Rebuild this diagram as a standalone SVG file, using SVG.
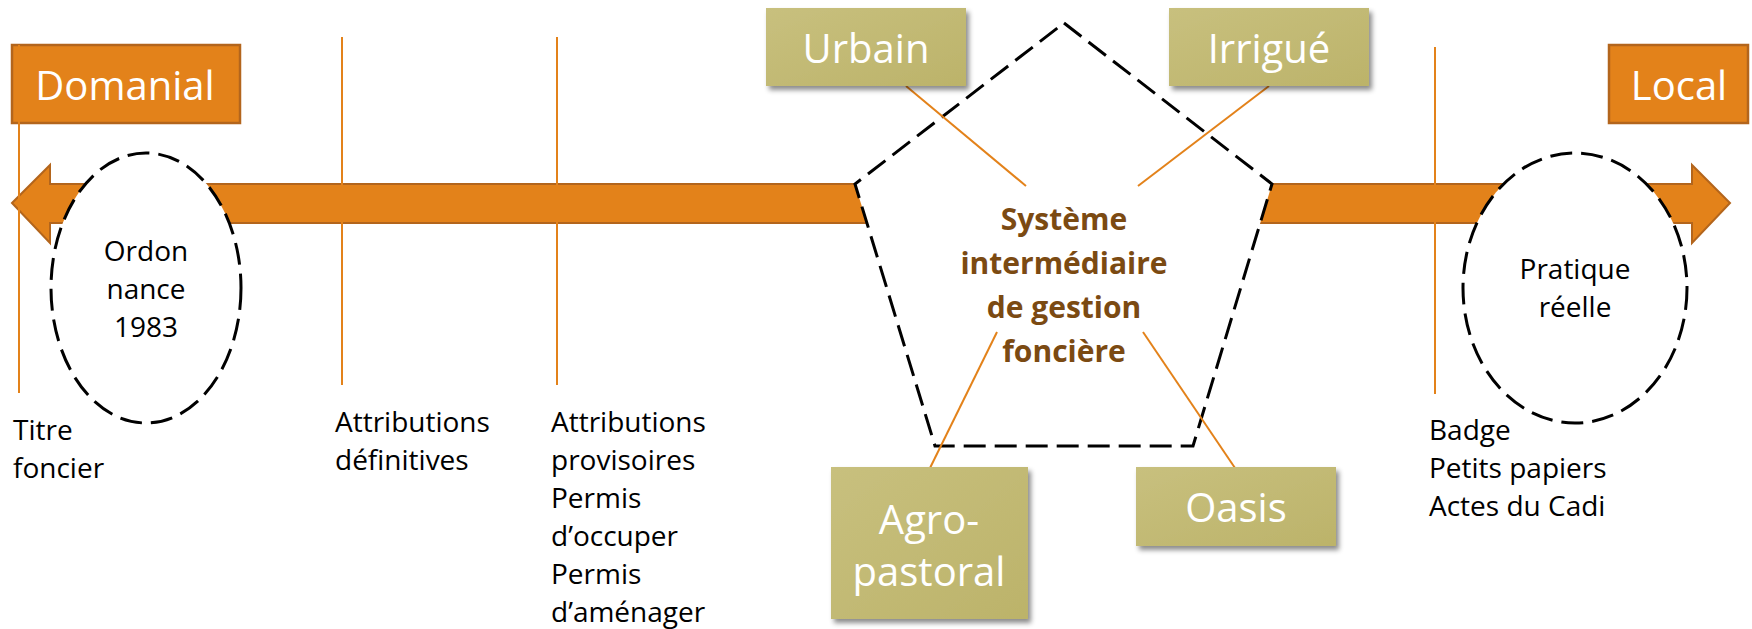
<svg xmlns="http://www.w3.org/2000/svg" width="1752" height="629" viewBox="0 0 1752 629">
<style>
.lbl{font-family:"Open Sans","Liberation Sans",sans-serif;font-size:28px;fill:#000}
.big{font-family:"Open Sans","Liberation Sans",sans-serif;font-size:40px;fill:#fff;text-anchor:middle}
.ctr{text-anchor:middle}
.core{font-family:"Open Sans","Liberation Sans",sans-serif;font-size:30px;font-weight:bold;fill:#7B4A12;text-anchor:middle}
.dash{fill:#fff;stroke:#000;stroke-width:3;stroke-dasharray:22 9}
.obox{fill:#E3821A;stroke:#B3651C;stroke-width:2.5}
.gbox{fill:url(#olive);filter:url(#shadow)}
.tick{stroke:#E3821A;stroke-width:2;fill:none}
.link{stroke:#E3821A;stroke-width:2;fill:none}
</style>
<defs>
<linearGradient id="olive" x1="0" y1="0" x2="1" y2="1">
<stop offset="0" stop-color="#C8C07E"/>
<stop offset="1" stop-color="#BCB36A"/>
</linearGradient>
<filter id="shadow" x="-10%" y="-10%" width="130%" height="140%">
<feDropShadow dx="3" dy="4" stdDeviation="2.5" flood-color="#000" flood-opacity="0.45"/>
</filter>
</defs>
<rect width="1752" height="629" fill="#fff"/>

<g id="axis-arrow">
<path d="M12,203 L50,165 L50,184 L1692,184 L1692,165 L1730,203 L1692,243 L1692,223 L50,223 L50,243 Z" fill="#E3821A" stroke="#B3651C" stroke-width="2" stroke-linejoin="miter"/>
</g>

<g id="node-ordonnance">
<ellipse cx="146" cy="288" rx="95" ry="135" class="dash"/>
<text class="lbl ctr"><tspan x="146" y="261">Ordon</tspan><tspan x="146" y="299">nance</tspan><tspan x="146" y="337">1983</tspan></text>
</g>

<g id="node-pratique">
<ellipse cx="1575" cy="288" rx="112" ry="135" class="dash"/>
<text class="lbl ctr"><tspan x="1575" y="279">Pratique</tspan><tspan x="1575" y="317">réelle</tspan></text>
</g>

<g id="node-systeme">
<polygon points="1064,23 1272,184 1193,446 935,446 855,184" class="dash"/>
<text class="core"><tspan x="1064" y="230">Système</tspan><tspan x="1064" y="274">intermédiaire</tspan><tspan x="1064" y="318">de gestion</tspan><tspan x="1064" y="362">foncière</tspan></text>
</g>

<g id="node-domanial">
<rect x="12" y="45" width="228" height="78" class="obox"/>
<text x="125" y="100" class="big">Domanial</text>
</g>

<g id="node-local">
<rect x="1609" y="45" width="139" height="78" class="obox"/>
<text x="1679" y="100" class="big">Local</text>
</g>

<g id="markers">
<line x1="19" y1="45" x2="19" y2="393" class="tick"/>
<line x1="342" y1="37" x2="342" y2="385" class="tick"/>
<line x1="557" y1="37" x2="557" y2="385" class="tick"/>
<line x1="1435" y1="47" x2="1435" y2="394" class="tick"/>
</g>

<g id="connectors">
<line x1="906" y1="86" x2="1026" y2="186" class="link"/>
<line x1="1269" y1="86" x2="1138" y2="186" class="link"/>
<line x1="997" y1="332" x2="930" y2="468" class="link"/>
<line x1="1143" y1="332" x2="1235" y2="468" class="link"/>
</g>

<g id="node-urbain">
<rect x="766" y="8" width="200" height="78" class="gbox"/>
<text x="866" y="63" class="big">Urbain</text>
</g>

<g id="node-irrigue">
<rect x="1169" y="8" width="200" height="78" class="gbox"/>
<text x="1269" y="63" class="big">Irrigué</text>
</g>

<g id="node-agropastoral">
<rect x="831" y="467" width="197" height="152" class="gbox"/>
<text class="big"><tspan x="929" y="534">Agro-</tspan><tspan x="929" y="586">pastoral</tspan></text>
</g>

<g id="node-oasis">
<rect x="1136" y="467" width="200" height="79" class="gbox"/>
<text x="1236" y="522" class="big">Oasis</text>
</g>

<g id="labels">
<text class="lbl"><tspan x="13" y="440">Titre</tspan><tspan x="13" y="478">foncier</tspan></text>
<text class="lbl"><tspan x="335" y="432">Attributions</tspan><tspan x="335" y="470">définitives</tspan></text>
<text class="lbl"><tspan x="551" y="432">Attributions</tspan><tspan x="551" y="470">provisoires</tspan><tspan x="551" y="508">Permis</tspan><tspan x="551" y="546">d’occuper</tspan><tspan x="551" y="584">Permis</tspan><tspan x="551" y="622">d’aménager</tspan></text>
<text class="lbl"><tspan x="1429" y="440">Badge</tspan><tspan x="1429" y="478">Petits papiers</tspan><tspan x="1429" y="516">Actes du Cadi</tspan></text>
</g>
</svg>
